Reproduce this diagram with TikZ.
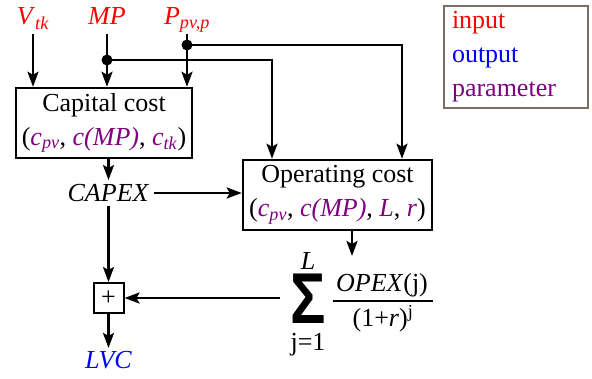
\documentclass[tikz,border=0pt]{standalone}
\usepackage{fontspec}
\setmainfont{Liberation Serif}
\newfontfamily\sigmafont{Liberation Sans}
\usetikzlibrary{arrows.meta}
\definecolor{inred}{RGB}{255,0,0}
\definecolor{outblue}{RGB}{0,0,255}
\definecolor{param}{RGB}{128,0,128}
\definecolor{legendcol}{RGB}{120,112,96}
\newcommand\pit[1]{\textcolor{param}{\textit{#1}}}
\newcommand\subit[1]{\textsubscript{\textit{#1}}}
\begin{document}
\begin{tikzpicture}[x=1pt,y=-1pt,
  font=\fontsize{26}{34}\selectfont,
  line width=2.5pt,
  >={Stealth[length=15pt,width=11pt,inset=3pt]},
  box/.style={draw,align=center,inner sep=0pt},
  lab/.style={inner sep=2pt,text depth=6pt,anchor=base},
  dot/.style={circle,fill,inner sep=0pt,minimum size=11pt}]
\useasboundingbox (0,0) rectangle (592,379);

% inputs
\node[lab,inred] (vtk) at (33,25) {\textit{V}\subit{tk}};
\node[lab,inred] (mp) at (107,25) {\textit{MP}};
\node[lab,inred] (pp) at (187,25) {\textit{P}\subit{pv,p}};

% capital cost box
\node[box,minimum width=176pt,minimum height=70pt] (cap) at (104,123)
  {Capital cost\\(\pit{c}\textcolor{param}{\subit{pv}}, \pit{c(MP)}, \pit{c}\textcolor{param}{\subit{tk}})};

% operating cost box
\node[box,minimum width=189pt,minimum height=70pt] (op) at (337.5,195)
  {Operating cost\\(\pit{c}\textcolor{param}{\subit{pv}}, \pit{c(MP)}, \pit{L}, \pit{r})};

% CAPEX, plus, LVC
\node[inner sep=3pt] (capex) at (108.5,193) {\textit{CAPEX}};
\node[draw,minimum size=30pt,inner sep=0pt,line width=2pt] (plus) at (108.5,298) {+};
\node[outblue,inner sep=2pt] (lvc) at (108.5,360) {\textit{LVC}};

% sum
\node[inner sep=0pt,font=\fontsize{72}{72}\selectfont\sigmafont\bfseries] (sigma) at (308,299) {\scalebox{0.82}[1]{Σ}};
\node[inner sep=0pt] (uL) at (308,261) {\textit{L}};
\node[inner sep=0pt] (j1) at (308,345) {j=1};
\node[inner sep=1pt] (num) at (382,285) {\textit{OPEX}(j)};
\node[inner sep=1pt] (den) at (383,319) {(1+\textit{r})\textsuperscript{j}};
\coordinate (fl) at (333,301);
\coordinate (fr) at (433,301);
\draw[line width=1.2pt] (fl) -- (fr);

% legend
\node[draw=legendcol,line width=2pt,anchor=north west,align=left,text width=128pt,inner xsep=8pt,minimum height=102pt] (legend) at (443,5)
  {\textcolor{inred}{input}\\\textcolor{outblue}{output}\\\textcolor{param}{parameter}};

% connectors
\coordinate (mpdot) at (107,60);
\coordinate (ppdot) at (187,45);
\coordinate (opx1) at (272,0);
\coordinate (opx2) at (402,0);
\coordinate (opout) at (352,0);
\coordinate (sumtop) at (352,256);
\coordinate (sumleft) at (280,0);

\draw[->] (vtk.south) -- (vtk.south |- cap.north);
\draw[->] (mp.south) -- (mp.south |- cap.north);
\draw[->] (pp.south) -- (pp.south |- cap.north);
\draw[->] (mpdot) -| (op.north -| opx1);
\draw[->] (ppdot) -| (op.north -| opx2);
\node[dot] at (mpdot) {};
\node[dot] at (ppdot) {};

\draw[->] (cap.south -| capex.north) -- (capex.north);
\draw[->] (capex.east) -- (op.west |- capex.east);
\draw[->] (capex.south) -- (plus.north);
\draw[->] (plus.south) -- (lvc.north);
\draw[->] (op.south -| opout) -- (sumtop);
\draw[->] (plus.east -| sumleft) -- (plus.east);
\end{tikzpicture}
\end{document}
